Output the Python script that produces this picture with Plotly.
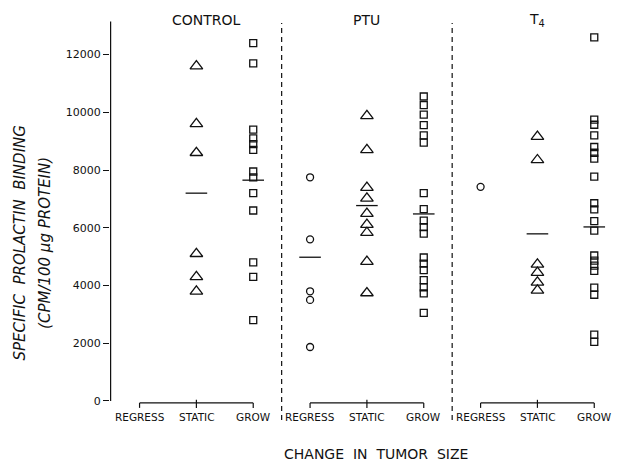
import plotly.graph_objects as go

# ---------------- data ----------------
groups = ["CONTROL", "PTU", "T<sub>4</sub>"]
categories = ["REGRESS", "STATIC", "GROW"]

control_regress = []
control_static = [11600, 9600, 8600, 5100, 4300, 3800]
control_grow = [12400, 11700, 9400, 9100, 8900, 8700, 7950, 7750, 7200, 6600, 4800, 4300, 2800]

ptu_regress = [7750, 5600, 3800, 3500, 1870]
ptu_static = [9880, 8700, 7390, 7020, 6490, 6110, 5830, 4830, 3740]
ptu_grow = [10550, 10250, 9920, 9560, 9200, 8950, 7200, 6650, 6250, 6020, 5800,
            4970, 4760, 4530, 4190, 3940, 3730, 3050]

t4_regress = [7420]
t4_static = [9160, 8350, 4730, 4450, 4110, 3830]
t4_grow = [12600, 9750, 9570, 9200, 8800, 8600, 8400, 7770, 6850, 6640, 6230, 5900,
           5040, 4860, 4690, 4510, 3930, 3680, 2300, 2050]

# mean lines (None = no line drawn)
control_means = [None, 7200, 7650]
ptu_means = [4980, 6770, 6480]
t4_means = [None, 5790, 6030]

y_ticks = [0, 2000, 4000, 6000, 8000, 10000, 12000]
y_title_1 = "SPECIFIC  PROLACTIN  BINDING"
y_title_2 = "(CPM/100 μg PROTEIN)"
x_title = "CHANGE  IN  TUMOR  SIZE"

# ---------------- figure ----------------
series = [
    [control_regress, control_static, control_grow],
    [ptu_regress, ptu_static, ptu_grow],
    [t4_regress, t4_static, t4_grow],
]
means = [control_means, ptu_means, t4_means]
symbols = ["circle-open", "triangle-up-open", "square-open"]
sizes = [7, 11, 7]

fig = go.Figure()
FONT = "DejaVu Sans"
BLACK = "#111111"

for g, grp in enumerate(series):
    for c, vals in enumerate(grp):
        if not vals:
            continue
        xpos = g * 3 + c
        fig.add_trace(go.Scatter(
            x=[xpos] * len(vals), y=vals, mode="markers",
            marker=dict(symbol=symbols[c], size=sizes[c], color=BLACK,
                        line=dict(color=BLACK, width=1.3)),
            showlegend=False, hoverinfo="y"))

# mean lines
mx, my = [], []
for g, m in enumerate(means):
    for c, v in enumerate(m):
        if v is None:
            continue
        xpos = g * 3 + c
        mx += [xpos - 0.19, xpos + 0.19, None]
        my += [v, v, None]
fig.add_trace(go.Scatter(x=mx, y=my, mode="lines",
                         line=dict(color=BLACK, width=1.3),
                         showlegend=False, hoverinfo="skip"))

YMIN, YMAX = -660, 13200
XMIN, XMAX = -0.52, 8.40

shapes = []
# y axis line
shapes.append(dict(type="line", xref="x", yref="y", x0=XMIN + 0.01, x1=XMIN + 0.01,
                   y0=0, y1=13150, line=dict(color=BLACK, width=1.3)))
# dashed separators
for sx in [2.5, 5.5]:
    shapes.append(dict(type="line", xref="x", yref="y", x0=sx, x1=sx,
                       y0=YMIN, y1=13100, line=dict(color=BLACK, width=1.2, dash="5px,4px")))
# brackets
for g in range(3):
    a, b = g * 3, g * 3 + 2
    shapes.append(dict(type="line", xref="x", yref="y", x0=a, x1=b, y0=-70, y1=-70,
                       line=dict(color=BLACK, width=1.2)))
    for t in [a, a + 1, b]:
        shapes.append(dict(type="line", xref="x", yref="y", x0=t, x1=t,
                           y0=40 if t == a + 1 else -70, y1=-240,
                           line=dict(color=BLACK, width=1.2)))

annotations = []
for g in range(3):
    for c, lab in enumerate(categories):
        annotations.append(dict(x=g * 3 + c, y=-560, xref="x", yref="y", text=lab,
                                showarrow=False, font=dict(family=FONT, size=10.5, color=BLACK),
                                xanchor="center", yanchor="middle"))
    annotations.append(dict(x=g * 3 + 1, y=1.0, xref="x", yref="paper", text=groups[g],
                            showarrow=False, font=dict(family=FONT, size=14, color=BLACK),
                            xanchor="center", yanchor="middle",
                            xshift=10 if g == 0 else 0, yshift=0))

annotations.append(dict(x=0.525, y=-0.085, xref="paper", yref="paper", text=x_title,
                        showarrow=False, font=dict(family=FONT, size=14, color=BLACK),
                        xanchor="center", yanchor="middle"))
annotations.append(dict(x=-0.178, y=0.443, xref="paper", yref="paper", text="<i>" + y_title_1 + "</i>",
                        textangle=-90, showarrow=False,
                        font=dict(family=FONT, size=15, color=BLACK),
                        xanchor="center", yanchor="middle"))
annotations.append(dict(x=-0.128, y=0.443, xref="paper", yref="paper", text="<i>" + y_title_2 + "</i>",
                        textangle=-90, showarrow=False,
                        font=dict(family=FONT, size=15, color=BLACK),
                        xanchor="center", yanchor="middle"))

fig.update_layout(
    width=619, height=461,
    margin=dict(l=110, r=2, t=20, b=41),
    paper_bgcolor="white", plot_bgcolor="white",
    showlegend=False,
    shapes=shapes, annotations=annotations,
    xaxis=dict(range=[XMIN, XMAX], showgrid=False, zeroline=False, showline=False,
               showticklabels=False, ticks=""),
    yaxis=dict(range=[YMIN, YMAX], tickvals=y_ticks, ticktext=[str(v) for v in y_ticks],
               showgrid=False, zeroline=False, showline=False, ticks="outside",
               ticklen=6, tickwidth=1.2, tickcolor=BLACK,
               tickfont=dict(family=FONT, size=11, color=BLACK)),
)

fig.write_html("out.html", config={"displayModeBar": False},
               post_script="document.body.style.margin='0';")
